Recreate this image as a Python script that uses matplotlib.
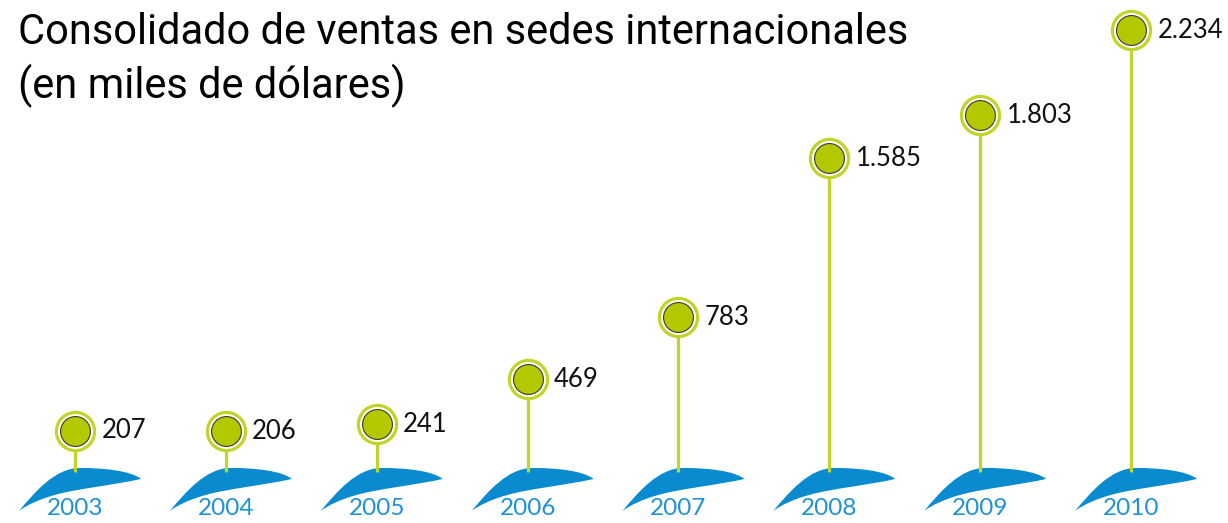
import matplotlib
matplotlib.use("Agg")
import matplotlib.pyplot as plt
from matplotlib.path import Path
from matplotlib.patches import PathPatch
import numpy as np

# Data
years = ["2003", "2004", "2005", "2006", "2007", "2008", "2009", "2010"]
sales = [207, 206, 241, 469, 783, 1585, 1803, 2234]

lime = "#b4c800"
ring = "#c2d42a"
blue = "#0a8bd0"
year_blue = "#1f92d6"

W, H, DPI = 1228, 523, 100
fig = plt.figure(figsize=(W / DPI, H / DPI), dpi=DPI)
ax = fig.add_axes([0, 0, 1, 1])
ax.axis("off")

# pixel <-> data scales (stems every ~151 px, 0 sits at ~472 px from top)
px_x = 150.86
px_y = (431 - 30) / (2234 - 207)
zero_px = 431 + 207 * px_y
ax.set_xlim(-75 / px_x, (W - 75) / px_x)
ax.set_ylim(-(H - zero_px) / px_y, zero_px / px_y)

x = np.arange(len(years))

# fin shape under each stem, in pixel offsets (y down)
fin_px = [
    (-56, 39),
    (-40, 20), (-20, -4), (5, -4),
    (30, -4), (56, -1), (66, 7),
    (40, 13), (0, 17), (-20, 23),
    (-35, 27), (-48, 33), (-56, 39),
]
fin_codes = [Path.MOVETO] + [Path.CURVE4] * 12
for xi in x:
    verts = [(xi + dx / px_x, -dy / px_y) for dx, dy in fin_px]
    ax.add_patch(PathPatch(Path(verts, fin_codes), facecolor=blue,
                           edgecolor="none", zorder=1))

# stems
ax.vlines(x, 0, sales, color=ring, linewidth=2.3, zorder=2)

# markers: ring + inner dot
ax.plot(x, sales, "o", markersize=27.5, mfc="white", mec=ring, mew=2.3,
        linestyle="none", zorder=3)
ax.plot(x, sales, "o", markersize=21.5, mfc=lime, mec="#3a3a2a", mew=0.8,
        linestyle="none", zorder=4)

for xi, v, yr in zip(x, sales, years):
    lbl = f"{v:,}".replace(",", ".")
    ax.annotate(lbl, (xi, v), xytext=(19, 0), textcoords="offset points",
                ha="left", va="center", fontsize=18.5, family="Lato",
                color="#111111", zorder=5)
    ax.annotate(yr, (xi, 0), xytext=(0, -26), textcoords="offset points",
                ha="center", va="center", fontsize=17.5, family="Lato",
                color=year_blue, zorder=5)

fig.text(18 / W, 1 - 44 / H, "Consolidado de ventas en sedes internacionales",
         fontsize=30, family="Roboto", ha="left", va="baseline")
fig.text(18 / W, 1 - 98 / H, "(en miles de dólares)",
         fontsize=30, family="Roboto", ha="left", va="baseline")

fig.savefig("out.png", dpi=DPI)
